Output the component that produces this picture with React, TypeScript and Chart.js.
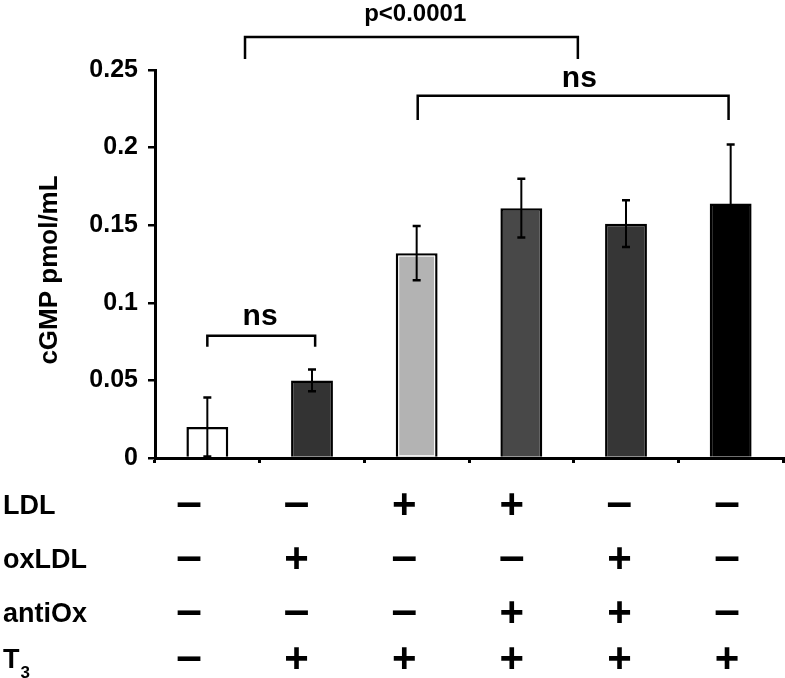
import React, { useEffect, useRef } from "react";
import { Chart, registerables } from "chart.js";

Chart.register(...registerables);

// ---------- data ----------
const categories = ["A", "B", "C", "D", "E", "F"];
const cgmpValues = [0.020, 0.050, 0.132, 0.161, 0.151, 0.164];
const cgmpErrors = [0.019, 0.007, 0.0175, 0.019, 0.015, 0.038];
const barColors = ["#ffffff", "#333333", "#b3b3b3", "#484848", "#363636", "#000000"];
const yTickValues = [0, 0.05, 0.1, 0.15, 0.2, 0.25];
const yTickLabels = ["0", "0.05", "0.1", "0.15", "0.2", "0.25"];
const yAxisTitle = "cGMP pmol/mL";

const rowLabels = ["LDL", "oxLDL", "antiOx", "T"];
const rowLabelSubscripts = ["", "", "", "3"];
const ldlRow = ["−", "−", "+", "+", "−", "−"];
const oxLdlRow = ["−", "+", "−", "−", "+", "−"];
const antiOxRow = ["−", "−", "−", "+", "+", "−"];
const t3Row = ["−", "+", "+", "+", "+", "+"];
const tableRows = [ldlRow, oxLdlRow, antiOxRow, t3Row];

// brackets: from/to are category indices, y values in data units
const bracketFrom = [0, 0.36, 2.01];
const bracketTo = [1.03, 3.54, 4.98];
const bracketTop = [0.0788, 0.2713, 0.2334];
const bracketBottom = [0.0717, 0.2571, 0.2178];
const bracketLabels = ["ns", "p<0.0001", "ns"];
const bracketLabelAt = [0.504, 1.986, 3.554];
const bracketLabelBaseline = [0.0857, 0.2818, 0.2392];

// ---------- layout constants ----------
const W = 785;
const H = 678;
const FONT = "'Liberation Sans', Arial, Helvetica, sans-serif";
const tableRowY = [504, 558, 612, 658];
const tableColX0 = 189;
const tableColDx = 107.6;

const annotPlugin = {
  id: "annot",
  afterDatasetsDraw(chart: any) {
    const { ctx } = chart;
    // inner white line of the light grey bar
    const meta = chart.getDatasetMeta(0);
    const el = meta.data[2];
    if (el) {
      const w = el.width;
      ctx.save();
      ctx.strokeStyle = "#ffffff";
      ctx.lineWidth = 1;
      ctx.strokeRect(el.x - w / 2 + 3, el.y + 3, w - 6, el.base - el.y - 4);
      ctx.restore();
    }
  },
  afterDraw(chart: any) {
    const { ctx, scales } = chart;
    const x = scales.x;
    const y = scales.y;
    ctx.save();
    // error bars
    ctx.strokeStyle = "#000";
    ctx.lineWidth = 2;
    cgmpValues.forEach((v, i) => {
      const px = x.getPixelForValue(i);
      const top = y.getPixelForValue(v + cgmpErrors[i]);
      const bot = y.getPixelForValue(Math.max(0, v - cgmpErrors[i]));
      ctx.lineWidth = 2;
      ctx.beginPath();
      ctx.moveTo(px, top);
      ctx.lineTo(px, bot);
      ctx.stroke();
      ctx.lineWidth = 2.5;
      ctx.beginPath();
      ctx.moveTo(px - 4, top);
      ctx.lineTo(px + 4, top);
      ctx.moveTo(px - 4, bot);
      ctx.lineTo(px + 4, bot);
      ctx.stroke();
    });

    // brackets
    ctx.lineWidth = 2.5;
    ctx.lineCap = "butt";
    bracketFrom.forEach((f, i) => {
      const x1 = x.getPixelForValue(f);
      const x2 = x.getPixelForValue(bracketTo[i]);
      const yt = y.getPixelForValue(bracketTop[i]);
      const yb = y.getPixelForValue(bracketBottom[i]);
      ctx.beginPath();
      ctx.moveTo(x1, yb);
      ctx.lineTo(x1, yt);
      ctx.lineTo(x2, yt);
      ctx.lineTo(x2, yb);
      ctx.stroke();
      ctx.fillStyle = "#000";
      ctx.textAlign = "center";
      ctx.textBaseline = "alphabetic";
      ctx.font = bracketLabels[i] === "ns" ? `bold 30px ${FONT}` : `bold 24px ${FONT}`;
      ctx.fillText(bracketLabels[i], x.getPixelForValue(bracketLabelAt[i]), y.getPixelForValue(bracketLabelBaseline[i]));
    });

    // y-axis title
    ctx.save();
    ctx.translate(50, 270);
    ctx.rotate(-Math.PI / 2);
    ctx.font = `bold 26px ${FONT}`;
    ctx.textAlign = "center";
    ctx.textBaseline = "middle";
    ctx.fillText(yAxisTitle, 0, 0);
    ctx.restore();

    // condition table
    ctx.fillStyle = "#000";
    rowLabels.forEach((lab, r) => {
      const cy = tableRowY[r];
      ctx.font = `bold 27px ${FONT}`;
      ctx.textAlign = "left";
      ctx.textBaseline = "alphabetic";
      const m = ctx.measureText(lab);
      const base = cy + (m.actualBoundingBoxAscent - m.actualBoundingBoxDescent) / 2;
      ctx.fillText(lab, 3, base);
      if (rowLabelSubscripts[r]) {
        ctx.font = `bold 17px ${FONT}`;
        ctx.fillText(rowLabelSubscripts[r], 3 + m.width + 1, base + 10);
      }
      tableRows[r].forEach((sym, c) => {
        const cx = tableColX0 + c * tableColDx;
        ctx.font = sym === "+" ? `bold 42px ${FONT}` : `bold 46px ${FONT}`;
        const s = sym === "+" ? "+" : "–";
        const mm = ctx.measureText(s);
        const bb = cy + (mm.actualBoundingBoxAscent - mm.actualBoundingBoxDescent) / 2;
        ctx.textAlign = "center";
        ctx.fillText(s, cx, bb);
      });
    });
    ctx.restore();
  },
};

export default function App() {
  const ref = useRef<HTMLCanvasElement | null>(null);
  useEffect(() => {
    if (!ref.current) return;
    Chart.defaults.font.family = FONT;
    const chart = new Chart(ref.current, {
      type: "bar",
      data: {
        labels: categories,
        datasets: [
          {
            data: cgmpValues,
            backgroundColor: barColors,
            borderColor: "#000000",
            borderWidth: 2.5,
            barPercentage: 0.4,
            categoryPercentage: 1.0,
          },
        ],
      },
      options: {
        responsive: false,
        maintainAspectRatio: false,
        animation: false,
        devicePixelRatio: 1,
        layout: { padding: { left: 0, right: 2, top: 70, bottom: 0 } },
        plugins: { legend: { display: false }, tooltip: { enabled: false }, title: { display: false } },
        scales: {
          x: {
            grid: { display: true, drawOnChartArea: false, drawTicks: true, tickLength: 5, color: "#000", lineWidth: 3, offset: true },
            border: { display: true, color: "#000", width: 3 },
            ticks: { display: false },
            afterFit: (s: any) => {
              s.height = H - 458;
            },
          },
          y: {
            min: 0,
            max: 0.25,
            afterBuildTicks: (s: any) => {
              s.ticks = yTickValues.map((v) => ({ value: v }));
            },
            ticks: {
              callback: (_v: any, i: number) => yTickLabels[i],
              color: "#000",
              font: { size: 25, weight: "bold", family: FONT },
              padding: 10,
            },
            grid: { display: true, drawOnChartArea: false, drawTicks: true, tickLength: 7, color: "#000", lineWidth: 2.5 },
            border: { display: true, color: "#000", width: 3 },
            afterFit: (s: any) => {
              s.width = 155;
            },
          },
        },
      },
      plugins: [annotPlugin],
    });
    return () => chart.destroy();
  }, []);
  return (
    <div style={{ position: "fixed", left: 0, top: 0, width: W, height: H, background: "#fff" }}>
      <canvas ref={ref} width={W} height={H} style={{ width: W, height: H, display: "block" }} />
    </div>
  );
}
